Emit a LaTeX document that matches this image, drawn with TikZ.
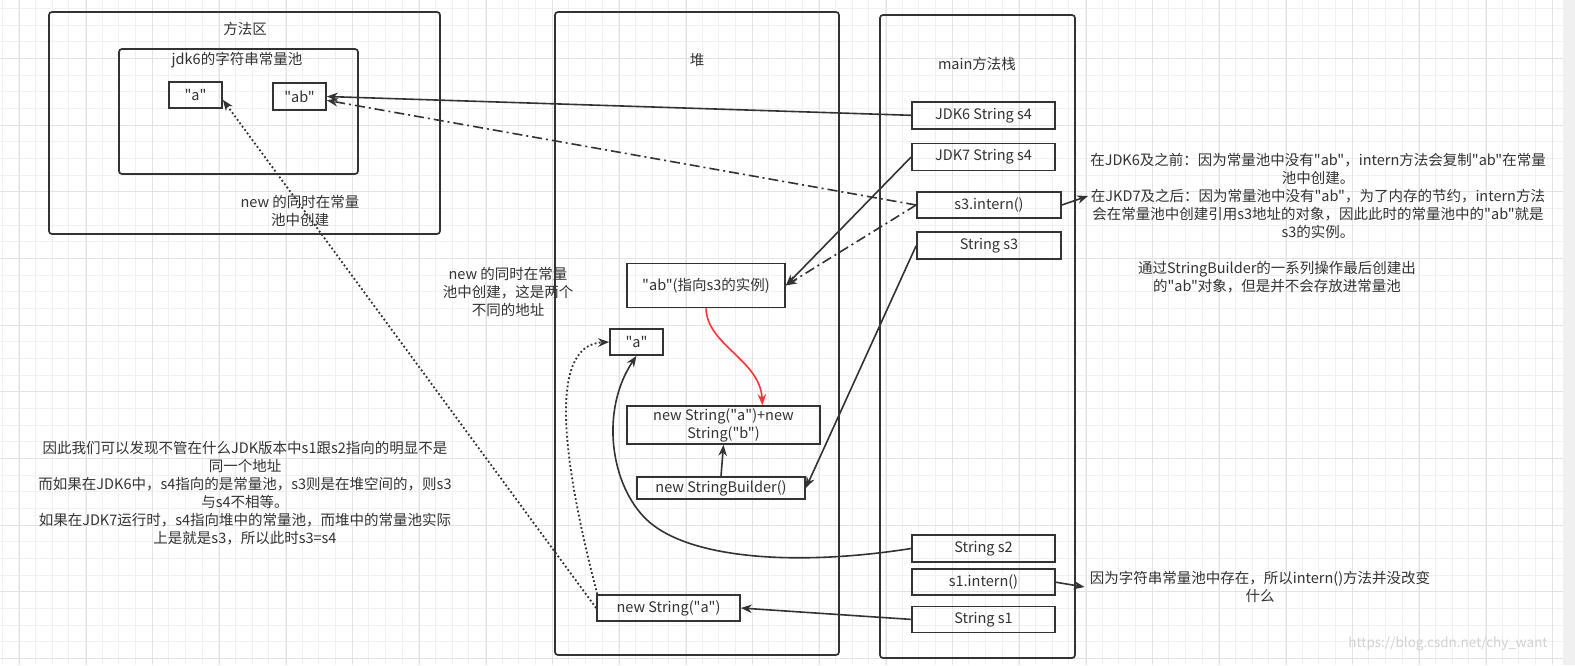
\documentclass[tikz,border=0pt]{standalone}
\usepackage{fontspec}
\setmainfont{Noto Sans CJK SC}[Ligatures=TeXOff]
\usetikzlibrary{arrows.meta,positioning}
\definecolor{ink}{HTML}{333333}
\definecolor{gridminor}{HTML}{F1F1F1}
\definecolor{gridmajor}{HTML}{E3E3E3}
\definecolor{arrowred}{HTML}{FF3333}

\begin{document}
\begin{tikzpicture}[x=1pt, y=-1pt, >={Stealth[length=11pt,width=8.5pt]},
    every node/.style={text=ink, font=\fontsize{14.5}{18}\selectfont},
    area/.style={draw=ink, line width=1.7pt, rounded corners=3pt},
    cell/.style={draw=ink, line width=1.7pt, inner sep=1pt, align=center},
    note/.style={align=center, inner sep=2pt},
    link/.style={draw=ink, line width=1.6pt, ->},
    dashdotlink/.style={link, dash pattern=on 10pt off 4pt on 2pt off 4pt},
    dotlink/.style={link, line width=1.8pt, dash pattern=on 1.8pt off 2.4pt}]
    \useasboundingbox (0,0) rectangle (1575,665);

    % Grid
    \fill[white] (0,0) rectangle (1563,665);
    \fill[gray!12] (1563,0) rectangle (1575,665);
    \foreach \gx in {2,18.667,...,1562}
        \draw[gridminor, line width=0.8pt] (\gx,0) -- (\gx,665);
    \foreach \gy in {8.333,25,...,665}
        \draw[gridminor, line width=0.8pt] (0,\gy) -- (1563,\gy);
    \foreach \gx in {19.333,86,...,1562}
        \draw[gridmajor, line width=0.8pt] (\gx,0) -- (\gx,665);
    \foreach \gy in {58.333,125,...,665}
        \draw[gridmajor, line width=0.8pt] (0,\gy) -- (1563,\gy);

    % Areas
    \node[area, minimum width=391pt, minimum height=222pt] (methodarea) at (244.5,123) {};
    \node (methodtitle) at (245,29) {方法区};
    \node[area, minimum width=239pt, minimum height=125pt] (pool) at (238.5,111.5) {};
    \node (pooltitle) at (237,60) {jdk6的字符串常量池};
    \node[area, minimum width=284pt, minimum height=643pt] (heap) at (697,333.5) {};
    \node (heaptitle) at (697,60) {堆};
    \node[area, minimum width=195pt, minimum height=643pt] (stack) at (977.5,336.5) {};
    \node (stacktitle) at (977,64) {main方法栈};

    % Nodes in the string pool
    \node[cell, minimum width=53pt, minimum height=26pt] (a1) at (195.5,95) {"a"};
    \node[cell, minimum width=53pt, minimum height=27pt] (ab1) at (299.5,96.5) {"ab"};

    % Nodes in the heap
    \node[cell, minimum width=158pt, minimum height=44pt] (abref) at (706,285.5) {"ab"(指向s3的实例)};
    \node[cell, minimum width=53pt, minimum height=26pt] (a2) at (636.5,342) {"a"};
    \node[cell, minimum width=193pt, minimum height=38pt] (concat) at (723.5,425) {new String("a")+new\\String("b")};
    \node[cell, minimum width=168pt, minimum height=22pt] (sb) at (721,488) {new StringBuilder()};
    \node[cell, minimum width=143pt, minimum height=26pt] (nsa) at (668.5,608) {new String("a")};

    % Nodes in the stack
    \node[cell, minimum width=143pt, minimum height=27pt] (s4jdk6) at (983.5,115.3) {JDK6 String s4};
    \node[cell, minimum width=143pt, minimum height=27pt, below=13pt of s4jdk6] (s4jdk7) {JDK7 String s4};
    \node[cell, minimum width=144pt, minimum height=26pt] (intern3) at (989,205) {s3.intern()};
    \node[cell, minimum width=144pt, minimum height=27pt, below=12.5pt of intern3] (s3) {String s3};
    \node[cell, minimum width=143pt, minimum height=27pt] (s2) at (983.5,548.5) {String s2};
    \node[cell, minimum width=143pt, minimum height=26pt, below=5.5pt of s2] (intern1) {s1.intern()};
    \node[cell, minimum width=143pt, minimum height=26pt, below=9.5pt of intern1] (s1) {String s1};

    % Notes
    \node[note] (note1) at (300,211) {new 的同时在常量\\池中创建};
    \node[note] (note2) at (508,292) {new 的同时在常量\\池中创建，这是两个\\不同的地址};
    \node[note] (note3) at (1318,196) {在JDK6及之前：因为常量池中没有"ab"，intern方法会复制"ab"在常量\\池中创建。\\在JKD7及之后：因为常量池中没有"ab"，为了内存的节约，intern方法\\会在常量池中创建引用s3地址的对象，因此此时的常量池中的"ab"就是\\s3的实例。};
    \node[note] (note4) at (1277,277) {通过StringBuilder的一系列操作最后创建出\\的"ab"对象，但是并不会存放进常量池};
    \node[note, inner sep=5pt] (note5) at (1260,587) {因为字符串常量池中存在，所以intern()方法并没改变\\什么};
    \node[note] (note6) at (245,493) {因此我们可以发现不管在什么JDK版本中s1跟s2指向的明显不是\\同一个地址\\而如果在JDK6中，s4指向的是常量池，s3则是在堆空间的，则s3\\与s4不相等。\\如果在JDK7运行时，s4指向堆中的常量池，而堆中的常量池实际\\上是就是s3，所以此时s3=s4};
    \node[text=gray!35, font=\fontsize{13.5}{16}\selectfont] (mark) at (1448,644) {https://blog.csdn.net/chy\_want};

    % Arrows
    \draw[link] (s4jdk6.west) -- (ab1.east);
    \draw[link] (s4jdk7.west) -- (abref.east);
    \draw[dashdotlink] (intern3.west) -- (ab1.-8);
    \draw[dashdotlink] (intern3.west) -- (abref.east);
    \draw[link] (intern3.east) -- (note3.west);
    \draw[link] (s3.west) -- (sb.east);
    \draw[link] (sb.north) -- (concat.south);
    \draw[link, arrowred] (abref.south) .. controls (707,345) and (760,360) .. (concat.27);
    \draw[link] (s2.west) .. controls (800,566) and (690,560) .. (647,520)
        .. controls (610,485) and (600,410) .. (a2.south);
    \draw[link] (s1.west) -- (nsa.east);
    \draw[link] (intern1.east) -- (note5.west);

    % Dotted arrows for new String("a")
    \draw[dotlink] (nsa.west) -- (a1.-10);
    \draw[dotlink] (nsa.169) .. controls (565,470) and (545,345) .. (a2.west);

\end{tikzpicture}
\end{document}
